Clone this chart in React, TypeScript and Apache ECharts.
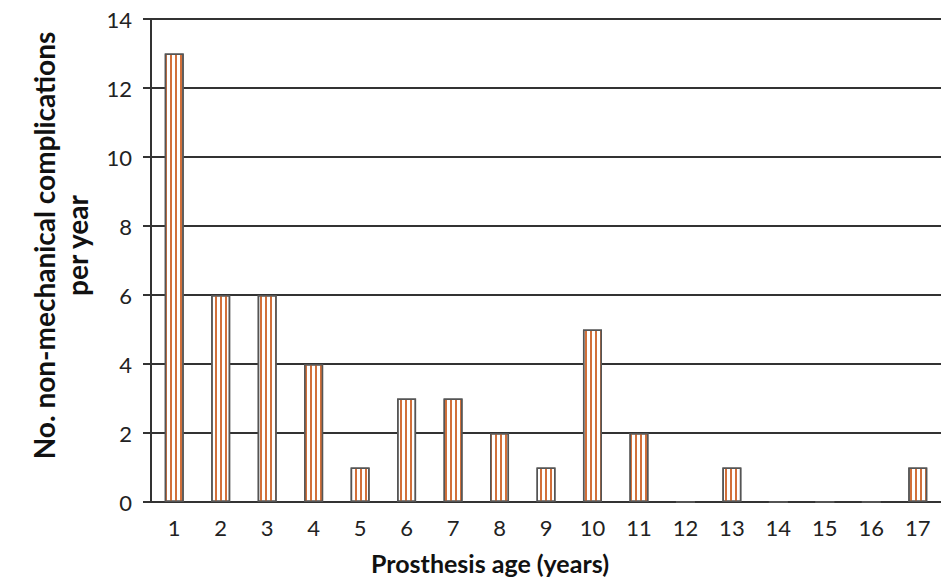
import React, { useEffect, useRef } from "react";
import * as echarts from "echarts";

const categories = ["1", "2", "3", "4", "5", "6", "7", "8", "9", "10", "11", "12", "13", "14", "15", "16", "17"];
const complications = [13, 6, 6, 4, 1, 3, 3, 2, 1, 5, 2, 0, 1, 0, 0, 0, 1];
const yTicks = { min: 0, max: 14, interval: 2 };
const xName = "Prosthesis age (years)";
const yName = "No. non-mechanical complications\nper year";

export default function App() {
  const ref = useRef<HTMLDivElement>(null);
  useEffect(() => {
    if (!ref.current) return;
    const chart = echarts.init(ref.current, null, { renderer: "svg" });
    const font = "Lato, 'Open Sans', sans-serif";
    chart.setOption({
      animation: false,
      backgroundColor: "#ffffff",
      grid: { left: 151, right: -5, top: 19, bottom: 78, containLabel: false },
      xAxis: {
        type: "category",
        data: categories,
        name: xName,
        nameLocation: "middle",
        nameGap: 48,
        nameTextStyle: { fontFamily: font, fontSize: 25, fontWeight: "bold", color: "#111", padding: [0, 112, 0, 0] },
        axisLine: { show: false },
        axisTick: { show: false },
        axisLabel: { fontFamily: font, fontSize: 22, color: "#222", margin: 14 },
      },
      yAxis: {
        type: "value",
        min: yTicks.min,
        max: yTicks.max,
        interval: yTicks.interval,
        name: yName,
        nameLocation: "middle",
        nameRotate: 90,
        nameGap: 58,
        nameTextStyle: {
          fontFamily: font,
          fontSize: 28,
          fontWeight: "bold",
          color: "#111",
          lineHeight: 33,
          padding: [0, 0, 0, 30],
        },
        axisLine: { show: true, lineStyle: { color: "#333", width: 2 } },
        axisTick: { show: true, length: 8, lineStyle: { color: "#333", width: 2 } },
        axisLabel: { fontFamily: font, fontSize: 22, color: "#222", margin: 19 },
        splitLine: { show: true, lineStyle: { color: "#333", width: 2 } },
      },
      series: [
        {
          type: "bar",
          data: complications,
          barWidth: 19,
          itemStyle: {
            color: "#ffffff",
            borderColor: "#555",
            borderWidth: 1.5,
            decal: {
              symbol: "rect",
              symbolSize: 1,
              color: "#d2703a",
              backgroundColor: "#ffffff",
              dashArrayX: [2, 2.5],
              dashArrayY: [4, 0],
              rotation: 0,
            },
          },
        },
      ],
    });
    return () => chart.dispose();
  }, []);
  return <div ref={ref} style={{ position: "absolute", left: 0, top: 0, width: 941, height: 580 }} />;
}
